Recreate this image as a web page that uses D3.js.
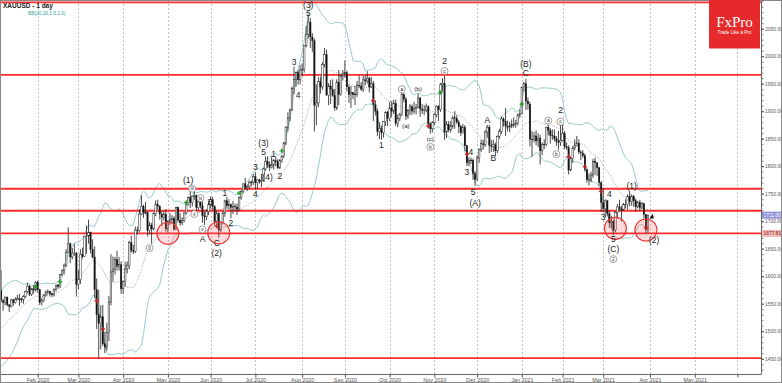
<!DOCTYPE html>
<html><head><meta charset="utf-8">
<script src="https://cdn.jsdelivr.net/npm/d3@7"></script>
<style>body{margin:0;background:#fff}svg{display:block}</style>
</head><body>
<svg id="c" width="782" height="383"></svg>
<script>
// ---------------- DATA ----------------
const firstDate = "2019-12-09";
const opens = [
1460,1462,1464,1475,1469,1476,1476,1475,1475,1479,1478,1486,1498,1511,1510,1515,
1517,1528,1552,1566,1574,1556,1552,1562,1548,1545,1557,1552,1557,1560,1558,1558,1563,1572,1582,1567,1577,1575,
1589,1576,1552,1556,1566,1570,1573,1568,1566,1576,1584,1581,1603,1611,1620,1643,1659,1635,1642,1642,
1585,1594,1640,1636,1672,1673,1680,1649,1635,1576,1530,1514,1526,1477,1471,1498,1553,1608,1613,1630,1618,1621,
1577,1590,1613,1620,1661,1647,1645,1684,1683,1713,1727,1716,1716,1683,1693,1686,1714,1730,1727,1713,1707,1713,
1686,1700,1703,1705,1685,1725,1702,1697,1701,1715,1730,1743,1734,1745,1747,1725,1735,1728,1710,1708,1718,
1730,1739,1727,1699,1714,1684,1698,1715,1737,1728,1730,1725,1727,1726,1722,1743,1754,1768,1761,1763,1771,1771,
1781,1770,1775,1772,1774,1795,1809,1803,1798,1802,1810,1808,1797,1810,1818,1842,1871,1888,1902,1941,1958,1970,1957,
1975,1976,2019,2039,2062,2035,2028,1911,1915,1954,1944,1985,2003,1929,1946,1940,1929,1906,1953,1930,1964,
1968,1970,1944,1930,1934,1930,1931,1947,1946,1940,1957,1955,1960,1944,1950,1912,1900,1863,1868,1861,1881,1898,
1887,1906,1900,1914,1878,1887,1894,1930,1922,1891,1901,1908,1900,1905,1907,1924,1904,1902,1902,1908,1877,1868,
1879,1894,1909,1903,1948,1951,1862,1876,1866,1873,1888,1887,1880,1872,1861,1871,1837,1806,1810,1811,1787,
1776,1815,1831,1841,1839,1862,1871,1838,1836,1839,1828,1854,1863,1886,1882,1873,1871,1873,1876,1876,1878,1893,
1895,1943,1950,1918,1913,1849,1849,1855,1846,1851,1828,1840,1840,1871,1865,1856,1855,1850,1845,1843,
1847,1860,1836,1834,1793,1814,1833,1838,1842,1826,1824,1819,1794,1775,1775,1784,1809,1806,1797,1770,
1734,1723,1737,1714,1697,1700,1684,1716,1726,1723,1720,1731,1730,1745,1736,1745,1737,1726,1734,1725,1732,1712,1685];
const highs = [
1464,1466,1477,1479,1480,1479,1479,1478,1481,1481,1487,1499,1512,1514,1519,1524,
1530,1553,1588,1577,1611,1559,1563,1563,1549,1559,1559,1562,1566,1568,1561,1566,1574,1588,1584,1579,1584,1591,
1592,1577,1560,1567,1574,1576,1573,1570,1578,1585,1586,1604,1612,1623,1649,1689,1661,1651,1659,1644,
1611,1649,1652,1673,1692,1703,1681,1667,1654,1596,1575,1547,1548,1499,1515,1564,1640,1636,1635,1646,1635,1627,
1592,1626,1627,1664,1674,1657,1690,1690,1722,1747,1730,1735,1718,1699,1697,1716,1738,1739,1729,1717,1718,1722,
1702,1715,1711,1709,1726,1727,1715,1707,1716,1734,1745,1765,1746,1753,1748,1737,1736,1736,1717,1722,1736,
1745,1744,1729,1719,1716,1699,1718,1739,1744,1740,1732,1737,1732,1732,1745,1756,1768,1779,1767,1774,1774,1786,
1789,1776,1777,1786,1797,1818,1818,1809,1818,1813,1817,1813,1813,1820,1844,1872,1898,1905,1945,1981,1972,1975,1984,
1987,2020,2055,2075,2070,2042,2032,1949,1962,1963,1989,2015,2012,1951,1957,1958,1940,1958,1975,1967,1975,
1992,1974,1949,1946,1935,1946,1955,1965,1953,1964,1966,1973,1963,1962,1955,1919,1905,1880,1874,1882,1900,1901,
1917,1918,1921,1921,1894,1897,1933,1933,1926,1904,1913,1912,1917,1913,1932,1926,1913,1911,1914,1911,1880,1882,
1896,1911,1911,1951,1960,1965,1882,1882,1882,1892,1900,1893,1884,1875,1877,1875,1839,1816,1816,1814,1791,
1820,1832,1848,1848,1866,1875,1875,1848,1848,1843,1856,1868,1890,1889,1906,1883,1881,1885,1889,1884,1896,1903,
1945,1953,1959,1925,1917,1864,1862,1865,1860,1857,1843,1849,1872,1875,1869,1867,1867,1855,1864,1875,
1875,1864,1843,1838,1817,1836,1849,1855,1849,1829,1829,1823,1796,1787,1790,1813,1816,1808,1799,1773,
1760,1740,1739,1719,1710,1703,1718,1731,1739,1728,1733,1740,1749,1755,1749,1748,1741,1737,1739,1735,1733,1713,1712];
const lows = [
1458,1459,1462,1465,1461,1472,1473,1472,1472,1474,1477,1485,1497,1506,1509,1514,
1516,1527,1552,1563,1553,1537,1547,1545,1535,1543,1546,1550,1556,1546,1552,1550,1561,1569,1564,1564,1568,1572,
1570,1548,1547,1553,1563,1567,1563,1562,1563,1572,1577,1578,1600,1603,1617,1643,1624,1631,1637,1563,
1576,1586,1632,1635,1641,1659,1641,1632,1560,1504,1451,1467,1473,1460,1465,1482,1547,1590,1603,1610,1610,1568,
1568,1581,1605,1613,1643,1640,1642,1676,1680,1711,1706,1712,1672,1676,1659,1683,1709,1721,1703,1691,1701,1681,
1679,1693,1696,1683,1684,1698,1692,1693,1698,1712,1728,1724,1727,1739,1717,1720,1723,1697,1693,1702,1711,
1723,1721,1693,1694,1670,1680,1694,1708,1723,1721,1705,1713,1718,1711,1718,1739,1750,1757,1755,1758,1763,1766,
1757,1758,1768,1762,1772,1792,1797,1791,1796,1794,1800,1795,1795,1806,1815,1838,1863,1882,1901,1931,1944,1948,1949,
1964,1970,2016,2032,2015,2008,1863,1874,1907,1932,1939,1980,1929,1911,1913,1926,1901,1902,1911,1928,1956,
1961,1936,1915,1906,1922,1911,1926,1942,1937,1935,1947,1950,1934,1942,1882,1892,1855,1849,1848,1852,1873,1873,
1882,1889,1895,1873,1871,1882,1891,1916,1884,1886,1893,1894,1896,1895,1905,1890,1895,1893,1898,1869,1859,1861,
1875,1889,1882,1899,1936,1848,1851,1862,1861,1868,1868,1877,1860,1855,1859,1827,1800,1800,1804,1775,1764,
1773,1806,1826,1830,1835,1852,1824,1826,1826,1819,1824,1850,1859,1872,1855,1863,1862,1869,1870,1870,1874,1888,
1895,1936,1902,1903,1836,1817,1843,1838,1835,1803,1820,1831,1836,1856,1841,1848,1845,1837,1830,1837,
1845,1831,1830,1785,1791,1806,1829,1836,1822,1811,1815,1790,1770,1765,1771,1779,1784,1782,1764,1717,
1717,1707,1709,1688,1687,1676,1680,1705,1718,1699,1719,1723,1721,1727,1728,1726,1717,1723,1718,1722,1705,1677,1679];
const closes = [
1462,1464,1475,1469,1476,1476,1475,1475,1479,1478,1486,1498,1511,1510,1515,1517,
1528,1552,1566,1574,1556,1552,1562,1548,1545,1557,1552,1557,1560,1558,1558,1563,1572,1582,1567,1577,1575,1589,
1576,1552,1556,1566,1570,1573,1568,1566,1576,1584,1581,1603,1611,1620,1643,1659,1635,1642,1642,1585,
1594,1640,1636,1672,1673,1680,1649,1635,1576,1530,1514,1526,1477,1471,1498,1553,1608,1613,1630,1618,1621,1577,
1590,1613,1620,1661,1647,1645,1684,1683,1713,1727,1716,1716,1683,1693,1686,1714,1730,1727,1713,1707,1713,1686,
1700,1703,1705,1685,1725,1702,1697,1701,1715,1730,1743,1734,1745,1747,1725,1735,1728,1710,1708,1718,1730,
1739,1727,1699,1714,1684,1698,1715,1737,1728,1730,1725,1727,1726,1722,1743,1754,1768,1761,1763,1771,1771,1781,
1770,1775,1772,1774,1795,1809,1803,1798,1802,1810,1808,1797,1810,1818,1842,1871,1888,1902,1941,1958,1970,1957,1975,
1976,2019,2039,2062,2035,2028,1911,1915,1954,1944,1985,2003,1929,1946,1940,1929,1906,1953,1930,1964,1968,
1970,1944,1930,1934,1930,1931,1947,1946,1940,1957,1955,1960,1944,1950,1912,1900,1863,1868,1861,1881,1898,1887,
1906,1900,1914,1878,1887,1894,1930,1922,1891,1901,1908,1900,1905,1907,1924,1904,1902,1902,1908,1877,1868,1879,
1894,1909,1903,1948,1951,1862,1876,1866,1873,1888,1887,1880,1872,1861,1871,1837,1806,1810,1811,1787,1776,
1815,1831,1841,1839,1862,1871,1838,1836,1839,1828,1854,1863,1886,1882,1873,1871,1873,1876,1876,1878,1893,1895,
1943,1950,1918,1913,1849,1849,1855,1846,1851,1828,1840,1840,1871,1865,1856,1855,1850,1845,1843,1847,
1860,1836,1834,1793,1814,1833,1838,1842,1826,1824,1819,1794,1775,1775,1784,1809,1806,1797,1770,1734,
1723,1737,1714,1697,1700,1684,1716,1726,1723,1720,1731,1730,1745,1736,1745,1737,1726,1734,1725,1732,1712,1685,1711];

const levels = [2098, 1966, 1759, 1719, 1677.81, 1451];
const priceTicks = [1450,1500,1550,1600,1650,1700,1750,1800,1850,1900,1950,2000,2050];
const monthTicks = ["2020-02-03","2020-03-02","2020-04-01","2020-05-01","2020-06-01","2020-07-01","2020-08-03","2020-09-01","2020-10-01","2020-11-02","2020-12-01","2021-01-04","2021-02-01","2021-03-01","2021-04-01","2021-05-03","2021-06-01"];
const monthLabels = ["Feb 2020","Mar 2020","Apr 2020","May 2020","Jun 2020","Jul 2020","Aug 2020","Sep 2020","Oct 2020","Nov 2020","Dec 2020","Jan 2021","Feb 2021","Mar 2021","Apr 2021","May 2021",""];

// wave labels: date, price, text, kind (t = large, s = small, c = circled)
const waveDates  = ["2020-05-15","2020-05-19","2020-05-25","2020-06-01","2020-06-10","2020-05-20","2020-05-26","2020-05-26","2020-06-04","2020-06-04","2020-06-15","2020-04-20","2020-07-01","2020-07-01","2020-07-07","2020-07-07","2020-07-14","2020-07-09","2020-07-17","2020-07-28","2020-07-30","2020-08-06","2020-08-06","2020-09-25","2020-10-09","2020-10-13","2020-10-21","2020-10-29","2020-10-29","2020-11-09","2020-11-09","2020-11-26","2020-11-24","2020-11-27","2020-11-30","2020-12-08","2020-12-11","2021-01-06","2021-01-06","2021-01-21","2021-01-27","2021-01-29","2021-01-29","2021-03-04","2021-03-01","2021-03-08","2021-03-08","2021-03-08","2021-03-19","2021-04-05"];
const wavePrices = [1775,1759,1742,1735,1752,1713,1685,1667,1661,1642,1697,1651,1799,1749,1843,1826,1822,1780,1782,1990,1930,2078,2094,1838,1940,1873,1940,1849,1835,1991,1973,1826,1790,1753,1733,1885,1815,1986,1970,1883,1822,1881,1902,1749,1708,1668,1649,1631,1764,1666];
const waveTexts  = ["(1)","iii","iv","B","1","ii","v","A","C","(2)","2","0","3","4","(3)","5","1","(4)","2","3","4","5","(3)","1","a","(a)","(b)","(c)","b","2","c","4","3","5","(A)","A","B","(B)","C","a","b","c","2","4","3","5","(C)","2","(1)","(2)"];
const waveKinds  = ["t","c","c","t","t","c","c","t","t","t","t","c","t","t","t","t","t","t","t","t","t","t","t","t","c","s","s","s","c","t","c","t","t","t","t","t","t","t","t","c","c","c","t","t","t","t","t","c","t","t"];

const greenDates = ["2020-01-31","2020-02-18","2020-05-14","2020-06-19","2020-07-20","2020-11-05","2021-01-04"];
const greenPrices = [1581,1590,1734,1751,1828,1934,1913];
const redDates = ["2020-03-13","2020-03-18","2020-06-04","2020-09-21","2020-10-28","2020-11-24","2021-02-04","2021-02-16","2021-02-26","2021-03-30"];
const redPrices = [1555,1504,1691,1919,1873,1822,1817,1799,1754,1688];

const zoneDates = ["2020-05-01","2020-06-05","2021-03-09","2021-03-30"];
const zonePrices = [1678,1679,1687,1684];

// ---------------- CHART ----------------
const svg = d3.select("#c");
const plotR = 761, plotB = 374;
const FONT = "Liberation Sans, Arial, sans-serif";

// trading calendar (weekdays, no Dec 25 / Jan 1)
const fmt = d3.utcFormat("%Y-%m-%d");
const cal = [];
for (let d = new Date(firstDate + "T00:00:00Z"); d <= new Date("2021-06-30T00:00:00Z"); d = d3.utcDay.offset(d, 1)) {
  const s = fmt(d), wd = d.getUTCDay();
  if (wd > 0 && wd < 6 && !s.endsWith("12-25") && !s.endsWith("01-01")) cal.push(s);
}
const idx = new Map(cal.map((s, i) => [s, i]));
const x = d3.scaleLinear().domain([idx.get("2020-02-03"), idx.get("2021-04-01")]).range([37.7, 650]);
const y = d3.scaleLinear().domain([1450, 2050]).range([358.7, 28.7]);
const X = s => x(idx.get(s));

svg.append("defs").append("clipPath").attr("id", "pc")
  .append("rect").attr("x", 1).attr("y", 0).attr("width", plotR - 1).attr("height", plotB);

// grid
svg.append("g").selectAll("line").data(monthTicks).join("line")
  .attr("x1", d => Math.round(X(d)) + 0.5).attr("x2", d => Math.round(X(d)) + 0.5)
  .attr("y1", 0).attr("y2", plotB)
  .attr("stroke", "#b4b4b4").attr("stroke-width", 0.8).attr("stroke-dasharray", "2,2");

const plot = svg.append("g").attr("clip-path", "url(#pc)");

// Bollinger bands (20, 2)
const bb = [];
for (let i = 19; i < closes.length; i++) {
  const w = closes.slice(i - 19, i + 1);
  const m = d3.mean(w);
  const sd = Math.sqrt(d3.mean(w, v => (v - m) * (v - m)));
  bb.push({ i, m, u: m + 2 * sd, l: m - 2 * sd });
}
const lineOf = k => d3.line().x(d => x(d.i)).y(d => y(d[k]));
plot.append("path").datum(bb).attr("d", lineOf("u")).attr("fill", "none").attr("stroke", "#99cccc").attr("stroke-width", 1);
plot.append("path").datum(bb).attr("d", lineOf("l")).attr("fill", "none").attr("stroke", "#99cccc").attr("stroke-width", 1);
plot.append("path").datum(bb).attr("d", lineOf("m")).attr("fill", "none").attr("stroke", "#8a8a8a").attr("stroke-width", 0.8).attr("stroke-dasharray", "1,1.5");

// levels
plot.append("g").selectAll("line").data(levels).join("line")
  .attr("x1", 0).attr("x2", plotR).attr("y1", d => y(d)).attr("y2", d => y(d))
  .attr("stroke", "#ff2b2b").attr("stroke-width", 1.8);

// candles
const bars = plot.append("g");
closes.forEach((c, i) => {
  const cx = x(i), o = opens[i];
  bars.append("line").attr("x1", cx).attr("x2", cx).attr("y1", y(highs[i])).attr("y2", y(lows[i]))
    .attr("stroke", "#1a1a1a").attr("stroke-width", 0.8);
  const top = y(Math.max(o, c)), bot = y(Math.min(o, c));
  bars.append("rect").attr("x", cx - 0.8).attr("width", 1.6)
    .attr("y", top).attr("height", Math.max(0.6, bot - top))
    .attr("fill", c >= o ? "#ffffff" : "#111").attr("stroke", "#222").attr("stroke-width", c >= o ? 0.5 : 0.2);
});

// zones
plot.append("g").selectAll("circle").data(zoneDates).join("circle")
  .attr("cx", d => X(d)).attr("cy", (d, i) => y(zonePrices[i])).attr("r", 11)
  .attr("fill", "rgba(255,90,90,0.22)").attr("stroke", "#ee3333").attr("stroke-width", 1.1);

// signal marks
function marks(dates, prices, col) {
  const g = plot.append("g").attr("stroke", col).attr("stroke-width", 1.3);
  dates.forEach((d, i) => {
    const cx = X(d), cy = y(prices[i]);
    g.append("line").attr("x1", cx - 2.2).attr("x2", cx + 2.2).attr("y1", cy).attr("y2", cy);
    g.append("line").attr("x1", cx).attr("x2", cx).attr("y1", cy - 2.2).attr("y2", cy + 2.2);
  });
}
marks(greenDates, greenPrices, "#22a022");
marks(redDates, redPrices, "#cc2222");

// wave labels
const wl = svg.append("g").attr("font-family", FONT).attr("fill", "#222");
waveDates.forEach((d, i) => {
  const cx = X(d), cy = y(wavePrices[i]), k = waveKinds[i];
  if (k === "c") {
    wl.append("circle").attr("cx", cx).attr("cy", cy).attr("r", 3.5).attr("fill", "#fff").attr("stroke", "#666").attr("stroke-width", 0.6);
    wl.append("text").attr("x", cx).attr("y", cy).attr("dy", "0.35em").attr("text-anchor", "middle").attr("font-size", 4.8).text(waveTexts[i]);
  } else {
    wl.append("text").attr("x", cx).attr("y", cy).attr("dy", "0.36em").attr("text-anchor", "middle")
      .attr("font-size", k === "s" ? 6.2 : 8.5).text(waveTexts[i]);
  }
});

// small arrow after the last bar
const ax = X("2021-04-01") + 1.5, ay = y(1708);
svg.append("path").attr("d", `M${ax - 2},${ay + 2}L${ax + 1},${ay - 3}L${ax + 2.5},${ay + 1.5}Z`).attr("fill", "#111");

// axes
svg.append("line").attr("x1", plotR + 0.5).attr("x2", plotR + 0.5).attr("y1", 0).attr("y2", plotB + 0.5).attr("stroke", "#666");
svg.append("line").attr("x1", 0).attr("x2", plotR + 0.5).attr("y1", plotB + 0.5).attr("y2", plotB + 0.5).attr("stroke", "#666");

const minorAx = svg.append("g").attr("transform", `translate(${plotR + 0.5},0)`)
  .call(d3.axisRight(y).tickValues(d3.range(1430, 2101, 10)).tickSize(2).tickFormat(""));
minorAx.select(".domain").remove();
minorAx.selectAll("line").attr("stroke", "#777");

const yAx = svg.append("g").attr("transform", `translate(${plotR + 0.5},0)`)
  .call(d3.axisRight(y).tickValues(priceTicks).tickSize(2.5).tickPadding(1).tickFormat(d3.format(".2f")));
yAx.select(".domain").remove();
yAx.selectAll("line").attr("stroke", "#555");
yAx.selectAll("text").attr("font-size", 4.9).attr("font-family", FONT).attr("fill", "#555");

const xAx = svg.append("g").attr("transform", `translate(0,${plotB + 0.5})`)
  .call(d3.axisBottom(x).tickValues(monthTicks.map(s => idx.get(s))).tickSize(3).tickPadding(0.5)
    .tickFormat((d, i) => monthLabels[i]));
xAx.select(".domain").remove();
xAx.selectAll("line").attr("stroke", "#555");
xAx.selectAll("text").attr("font-size", 5.4).attr("font-family", FONT).attr("fill", "#555");

// price boxes
function priceBox(p, txt, fill, col) {
  const g = svg.append("g");
  g.append("rect").attr("x", plotR + 1).attr("y", y(p) - 3.5).attr("width", 20).attr("height", 7).attr("fill", fill);
  g.append("text").attr("x", plotR + 2.5).attr("y", y(p)).attr("dy", "0.35em").attr("font-size", 4.9)
    .attr("font-family", FONT).attr("fill", col).text(txt);
}
priceBox(closes[closes.length - 1], d3.format(".2f")(closes[closes.length - 1]), "#8e90d8", "#fff");
priceBox(1677.81, "1677.81", "#f3b9b9", "#8a1a1a");

// frame
svg.append("rect").attr("x", 0.5).attr("y", 0.5).attr("width", 781).attr("height", 382)
  .attr("fill", "none").attr("stroke", "#888");

// title
svg.append("text").attr("x", 3).attr("y", 8).attr("font-size", 6.5).attr("font-weight", "bold")
  .attr("font-family", FONT).attr("fill", "#222").text("XAUUSD - 1 day");
svg.append("text").attr("x", 28).attr("y", 14.5).attr("font-size", 4.8)
  .attr("font-family", FONT).attr("fill", "#3aa0a0").text("BB(20,20,2.0,2.0)");

// logo
const lg = svg.append("g");
lg.append("rect").attr("x", 709).attr("y", 0).attr("width", 51).attr("height", 48.5).attr("fill", "#e62a2c");
lg.append("text").attr("x", 734.5).attr("y", 27).attr("text-anchor", "middle").attr("font-size", 15)
  .attr("font-family", "Liberation Serif, DejaVu Serif, serif").attr("fill", "#fff").text("FxPro");
lg.append("text").attr("x", 734.5).attr("y", 34).attr("text-anchor", "middle").attr("font-size", 4.6)
  .attr("font-family", FONT).attr("fill", "#fff").text("Trade Like a Pro");
</script>
</body></html>
